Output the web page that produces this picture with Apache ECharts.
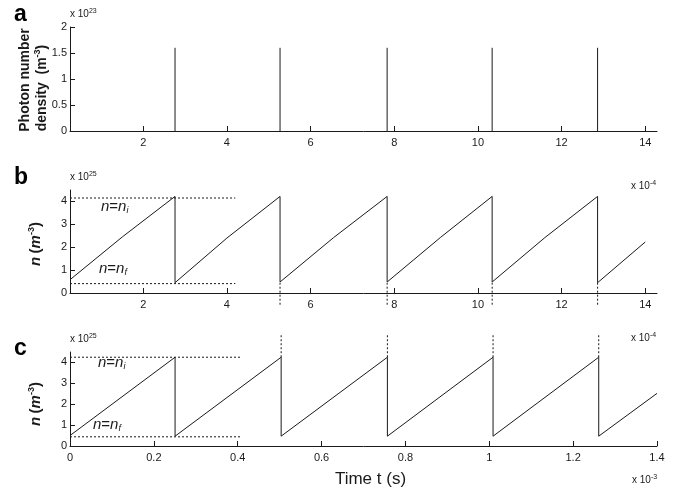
<!DOCTYPE html>
<html>
<head>
<meta charset="utf-8">
<script src="https://cdn.jsdelivr.net/npm/echarts@6/dist/echarts.min.js"></script>
<style>
html, body { margin: 0; background: #fff; }
#chart { width: 675px; height: 489px; }
</style>
</head>
<body>
<div id="chart"></div>
<script>
// panel a: photon pulses (t in 1e-4 s, density in 1e23 m^-3)
const pulseTimes = [2.76, 5.27, 7.83, 10.34, 12.86];
const pulseHeights = [1.6, 1.6, 1.6, 1.6, 1.6];

// panel b: inversion density (t in 1e-4 s, n in 1e25 m^-3)
const bTime = [0.25, 1.5, 2.76, 2.76, 4.0, 5.27, 5.27, 6.55, 7.83, 7.83, 9.1, 10.34, 10.34, 11.6, 12.86, 12.86, 14.0];
const bDensity = [0.58, 2.45, 4.22, 0.45, 2.4, 4.22, 0.48, 2.42, 4.22, 0.48, 2.42, 4.22, 0.48, 2.42, 4.22, 0.45, 2.23];
const bLevelSpan = [0.25, 4.2];
const bInitial = 4.15;
const bFinal = 0.41;
const bDropTimes = [5.27, 7.83, 10.34, 12.86];
const bDropSpan = [0.45, -0.6];

// panel c: inversion density (t in 1e-3 s, n in 1e25 m^-3)
const cTime = [0, 0.2506, 0.2506, 0.5036, 0.5036, 0.757, 0.757, 1.009, 1.009, 1.261, 1.261, 1.4];
const cDensity = [0.5, 4.25, 0.47, 4.25, 0.47, 4.25, 0.47, 4.25, 0.47, 4.25, 0.47, 2.52];
const cLevelSpan = [0, 0.41];
const cInitial = 4.25;
const cFinal = 0.44;
const cPeakTimes = [0.5036, 0.757, 1.009, 1.261];
const cPeakSpan = [4.25, 5.3];

// tick labels
const abTicks = [2, 4, 6, 8, 10, 12, 14];
const aYTicks = [0, 0.5, 1, 1.5, 2];
const nYTicks = [0, 1, 2, 3, 4];

const FONT = 'Liberation Sans';
const INK = '#1a1a1a';
const solid = { color: INK, width: 1 };
const dotted = { color: INK, width: 1, type: [2, 2] };

function zip(xs, ys) {
    return xs.map((x, i) => [x, ys[i]]);
}

function line(idx, data, style, clip) {
    return {
        type: 'line', xAxisIndex: idx, yAxisIndex: idx,
        data: data, symbol: 'none', lineStyle: style,
        clip: clip, silent: true, animation: false
    };
}

const series = [];
// a
pulseTimes.forEach((t, i) => series.push(line(0, [[t, 0], [t, pulseHeights[i]]], solid, true)));
// b
series.push(line(1, zip(bTime, bDensity), solid, true));
series.push(line(1, zip(bLevelSpan, [bInitial, bInitial]), dotted, false));
series.push(line(1, zip(bLevelSpan, [bFinal, bFinal]), dotted, false));
bDropTimes.forEach(t => series.push(line(1, [[t, bDropSpan[0]], [t, bDropSpan[1]]], dotted, false)));
// c
series.push(line(2, zip(cTime, cDensity), solid, true));
series.push(line(2, zip(cLevelSpan, [cInitial, cInitial]), dotted, false));
series.push(line(2, zip(cLevelSpan, [cFinal, cFinal]), dotted, false));
cPeakTimes.forEach(t => series.push(line(2, [[t, cPeakSpan[0]], [t, cPeakSpan[1]]], dotted, false)));

const axisBase = {
    axisLine: { lineStyle: { color: INK, width: 1 } },
    axisTick: { inside: true, length: 5, lineStyle: { color: INK } },
    axisLabel: { color: INK, fontFamily: FONT, fontSize: 11, margin: 6 },
    splitLine: { show: false }
};

function xAxis(idx, min, max, opts) {
    return Object.assign({}, axisBase, { type: 'value', gridIndex: idx, min: min, max: max }, opts);
}

function yAxis(idx, max, ticks) {
    return Object.assign({}, axisBase, {
        type: 'value', gridIndex: idx, min: 0, max: max,
        axisTick: Object.assign({}, axisBase.axisTick, { customValues: ticks }),
        axisLabel: Object.assign({}, axisBase.axisLabel, { customValues: ticks, margin: 3 })
    });
}

const yAxes = [yAxis(0, 2, aYTicks), yAxis(1, 4.5, nYTicks), yAxis(2, 4.5, nYTicks)];

const abTickOpts = {
    axisTick: Object.assign({}, axisBase.axisTick, { customValues: abTicks }),
    axisLabel: Object.assign({}, axisBase.axisLabel, { customValues: abTicks })
};

const xAxes = [
    xAxis(0, 0.25, 14.28, abTickOpts),
    xAxis(1, 0.25, 14.28, abTickOpts),
    xAxis(2, 0, 1.4, {
        interval: 0.2,
        name: 'Time t (s)', nameLocation: 'middle', nameGap: 25,
        nameTextStyle: { color: INK, fontFamily: FONT, fontSize: 17, padding: [0, 0, 0, 14] }
    })
];

// rotated y-axis titles
const titleRich = {
    t: { fontSize: 14, fontWeight: 'bold', fontFamily: FONT, fill: INK },
    it: { fontSize: 15, fontWeight: 'bold', fontStyle: 'italic', fontFamily: FONT, fill: INK },
    p: { fontSize: 15, fontWeight: 'bold', fontFamily: FONT, fill: INK },
    sup: { fontSize: 9, fontWeight: 'bold', fontFamily: FONT, fill: INK, padding: [0, 0, 9, 0] }
};
function yTitle(x, y, text) {
    return {
        type: 'text', x: x, y: y, rotation: Math.PI / 2,
        style: { text: text, rich: titleRich, align: 'center', verticalAlign: 'middle' }
    };
}

const smallRich = {
    s: { fontSize: 10, fontFamily: FONT, fill: INK },
    u: { fontSize: 7, fontFamily: FONT, fill: INK, padding: [0, 0, 6, 0] }
};
function scaleText(x, y, exp) {
    return { type: 'text', left: x, top: y, style: { text: '{s|x 10}{u|' + exp + '}', rich: smallRich } };
}

const nRich = {
    i: { fontSize: 15, fontStyle: 'italic', fontFamily: FONT, fill: INK },
    e: { fontSize: 15, fontFamily: FONT, fill: INK },
    sub: { fontSize: 9, fontStyle: 'italic', fontFamily: FONT, fill: INK, padding: [8, 0, 0, 0] }
};
function levelText(x, y, sub) {
    return { type: 'text', left: x, top: y, style: { text: '{i|n}{e|=}{i|n}{sub|' + sub + '}', rich: nRich } };
}
function panelLetter(x, y, s) {
    return { type: 'text', left: x, top: y, style: { text: s, fontSize: 23, fontWeight: 'bold', fontFamily: FONT, fill: '#000' } };
}

const chart = echarts.init(document.getElementById('chart'), null, { renderer: 'canvas' });
chart.setOption({
    backgroundColor: '#fff',
    animation: false,
    grid: [
        { left: 70, right: 18, top: 27, height: 104 },
        { left: 70, right: 18, top: 190, height: 103 },
        { left: 70, right: 18, top: 352, height: 103 }
    ],
    xAxis: xAxes,
    yAxis: yAxes,
    series: series,
    graphic: [
        panelLetter(14, 3, 'a'),
        panelLetter(14, 166, 'b'),
        panelLetter(14, 337, 'c'),
        yTitle(25, 80, '{t|Photon number}'),
        yTitle(42, 88, '{t|density  (m}{sup|-3}{t|)}'),
        yTitle(36, 244, '{it|n} {p|(}{it|m}{sup|-3}{p|)}'),
        yTitle(36, 404, '{it|n} {p|(}{it|m}{sup|-3}{p|)}'),
        scaleText(70, 8, '23'),
        scaleText(70, 171, '25'),
        scaleText(70, 333, '25'),
        scaleText(631, 180, '-4'),
        scaleText(631, 332, '-4'),
        scaleText(632, 474, '-3'),
        levelText(101, 199, 'i'),
        levelText(99, 261, 'f'),
        levelText(98, 355, 'i'),
        levelText(93, 417, 'f')
    ]
});
</script>
</body>
</html>
